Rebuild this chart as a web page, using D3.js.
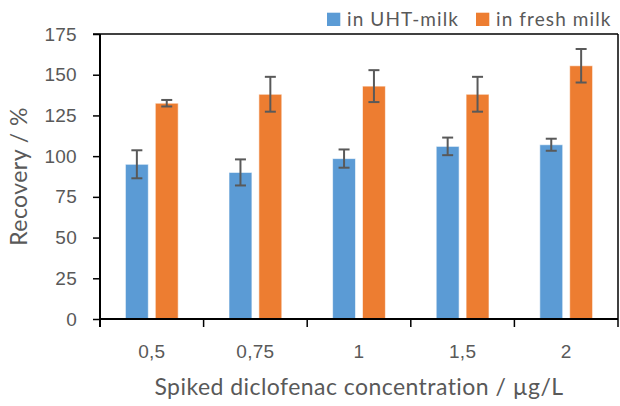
<!DOCTYPE html>
<meta charset="utf-8">
<style>
	body {
		margin: 0;
		background: #fff;
	}
	svg {
		font-family: Lato, "Open Sans", sans-serif;
	}
	.tick text {
		fill: #595959;
		font-size: 19px;
		letter-spacing: 0.3px;
	}
</style>
<script src="https://d3js.org/d3.v7.min.js"></script>
<svg width="620" height="406" class="chart"></svg>
<script>
	var concentrations = ["0,5", "0,75", "1", "1,5", "2"];
	var series = ["in UHT-milk", "in fresh milk"];
	var uht_values = [95, 90, 98.5, 106, 107];
	var uht_errors = [8.6, 8, 5.6, 5.4, 3.7];
	var fresh_values = [132.5, 138, 143, 138, 155.5];
	var fresh_errors = [2, 10.7, 9.8, 10.7, 10.3];
	var y_ticks = [0, 25, 50, 75, 100, 125, 150, 175];
	var colors = ["#5b9bd5", "#ed7d31"];

	var data = [];
	for (var i in concentrations) {
		data.push({name: concentrations[i], values: [
			{key: series[0], value: uht_values[i], err: uht_errors[i]},
			{key: series[1], value: fresh_values[i], err: fresh_errors[i]}
		]});
	}

	var svg = d3.select(".chart"),
			margin = {top: 34, right: 2, bottom: 87, left: 100},
			width = svg.attr("width") - margin.left - margin.right,
			height = svg.attr("height") - margin.top - margin.bottom;

	var x = d3.scaleBand()
		.domain(concentrations)
		.range([0, width]);

	var x_series = d3.scaleBand()
		.domain(series)
		.range([0, x.bandwidth()])
		.paddingInner(0.233)
		.paddingOuter(0.85);

	var y = d3.scaleLinear()
		.domain([0, 175])
		.range([height, 0]);

	var color = d3.scaleOrdinal().domain(series).range(colors);

	var g = svg.append("g")
		.attr("transform", "translate(" + margin.left + "," + margin.top + ")");

	var groups = g.selectAll(".group")
		.data(data)
		.enter().append("g")
			.attr("class", "group")
			.attr("transform", function(d) { return "translate(" + x(d.name) + ",0)"; });

	groups.selectAll("rect")
		.data(function(d) { return d.values; })
		.enter().append("rect")
			.attr("x", function(d) { return x_series(d.key); })
			.attr("y", function(d) { return y(d.value); })
			.attr("width", x_series.bandwidth())
			.attr("height", function(d) { return height - y(d.value); })
			.attr("fill", function(d) { return color(d.key); })
			.attr("stroke", "#fff")
			.attr("stroke-opacity", 0.6)
			.attr("stroke-width", 1);

	var err = groups.selectAll(".err")
		.data(function(d) { return d.values; })
		.enter().append("g")
			.attr("class", "err")
			.attr("stroke", "#595959")
			.attr("stroke-width", 2)
			.attr("transform", function(d) { return "translate(" + (x_series(d.key) + x_series.bandwidth() / 2) + ",0)"; });

	err.append("line")
		.attr("y1", function(d) { return y(d.value + d.err); })
		.attr("y2", function(d) { return y(d.value - d.err); });
	err.append("line")
		.attr("x1", -5.5).attr("x2", 5.5)
		.attr("y1", function(d) { return y(d.value + d.err); })
		.attr("y2", function(d) { return y(d.value + d.err); });
	err.append("line")
		.attr("x1", -5.5).attr("x2", 5.5)
		.attr("y1", function(d) { return y(d.value - d.err); })
		.attr("y2", function(d) { return y(d.value - d.err); });

	// frame: top and right lines
	g.append("line")
		.attr("x1", -7).attr("x2", width)
		.attr("y1", 0).attr("y2", 0)
		.attr("stroke", "#000").attr("stroke-width", 1.5);
	g.append("line")
		.attr("x1", width).attr("x2", width)
		.attr("y1", 0).attr("y2", height)
		.attr("stroke", "#000").attr("stroke-width", 1.5);

	var y_axis = g.append("g")
		.call(d3.axisLeft(y).tickValues(y_ticks).tickSize(7).tickPadding(16));
	y_axis.select(".domain").remove();
	y_axis.append("line")
		.attr("x1", 0).attr("x2", 0)
		.attr("y1", 0).attr("y2", height + 8)
		.attr("stroke", "#000").attr("stroke-width", 2);
	y_axis.selectAll(".tick line").attr("stroke", "#000").attr("stroke-width", 1.5);

	var x_axis = g.append("g")
		.attr("transform", "translate(0," + height + ")")
		.call(d3.axisBottom(x).tickSize(0).tickPadding(26));
	x_axis.select(".domain").remove();
	x_axis.append("line")
		.attr("x1", 0).attr("x2", width)
		.attr("stroke", "#000").attr("stroke-width", 2);
	x_axis.selectAll(".bound")
		.data(d3.range(concentrations.length + 1))
		.enter().append("line")
			.attr("class", "bound")
			.attr("x1", function(d) { return d * x.step(); })
			.attr("x2", function(d) { return d * x.step(); })
			.attr("y1", 0).attr("y2", 8)
			.attr("stroke", "#000").attr("stroke-width", 1.5);

	svg.append("text")
		.attr("x", 359)
		.attr("y", 395)
		.attr("text-anchor", "middle")
		.attr("fill", "#595959")
		.attr("font-size", "23px")
		.attr("letter-spacing", "0.45px")
		.text("Spiked diclofenac concentration / µg/L");

	svg.append("text")
		.attr("transform", "rotate(-90)")
		.attr("x", -(margin.top + height / 2))
		.attr("y", 27)
		.attr("text-anchor", "middle")
		.attr("fill", "#595959")
		.attr("font-size", "23px")
		.attr("letter-spacing", "0.45px")
		.text("Recovery / %");

	var legend = svg.append("g")
		.attr("font-size", "19px")
		.attr("letter-spacing", "1.1px")
		.attr("fill", "#595959");
	var legend_x = [327, 476];
	var item = legend.selectAll(".item")
		.data(series)
		.enter().append("g")
			.attr("class", "item")
			.attr("transform", function(d, i) { return "translate(" + legend_x[i] + ",0)"; });
	item.append("rect")
		.attr("y", 12.7).attr("width", 13.3).attr("height", 13.3)
		.attr("fill", function(d) { return color(d); });
	item.append("text")
		.attr("x", 20).attr("y", 26)
		.text(function(d) { return d; });
</script>
